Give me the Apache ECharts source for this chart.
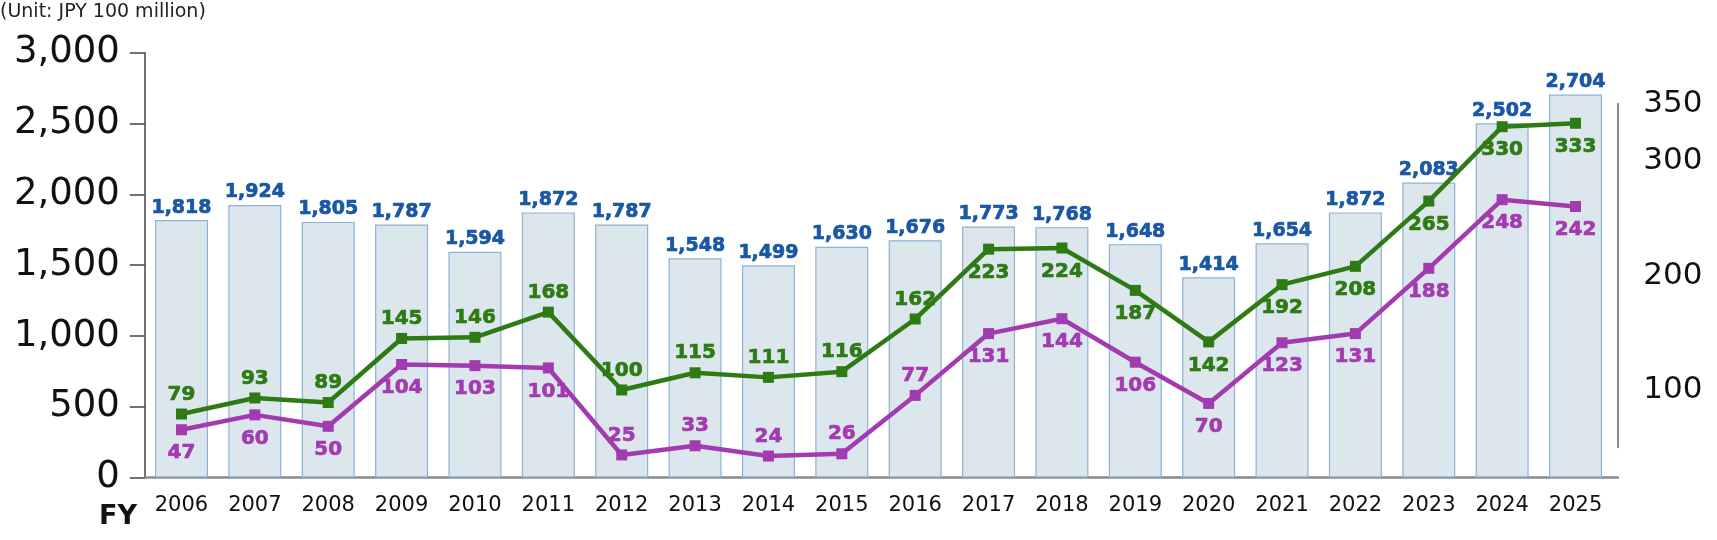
<!DOCTYPE html>
<html>
<head>
<meta charset="utf-8">
<script src="https://cdn.jsdelivr.net/npm/echarts@6/dist/echarts.min.js"></script>
<style>
  html, body { margin: 0; padding: 0; background: #fff; }
  #chart { width: 1717px; height: 540px; }
</style>
</head>
<body>
<div id="chart"></div>
<script>
const years = ['2006', '2007', '2008', '2009', '2010', '2011', '2012', '2013', '2014', '2015',
               '2016', '2017', '2018', '2019', '2020', '2021', '2022', '2023', '2024', '2025'];
const sales = [1818, 1924, 1805, 1787, 1594, 1872, 1787, 1548, 1499, 1630,
               1676, 1773, 1768, 1648, 1414, 1654, 1872, 2083, 2502, 2704];
const greenValues = [79, 93, 89, 145, 146, 168, 100, 115, 111, 116,
                     162, 223, 224, 187, 142, 192, 208, 265, 330, 333];
const purpleValues = [47, 60, 50, 104, 103, 101, 25, 33, 24, 26,
                      77, 131, 144, 106, 70, 123, 131, 188, 248, 242];
const greenLabelSide = ['top', 'top', 'top', 'top', 'top', 'top', 'top', 'top', 'top', 'top',
                        'top', 'bottom', 'bottom', 'bottom', 'bottom', 'bottom', 'bottom', 'bottom', 'bottom', 'bottom'];
const purpleLabelSide = ['bottom', 'bottom', 'bottom', 'bottom', 'bottom', 'bottom', 'top', 'top', 'top', 'top',
                         'top', 'bottom', 'bottom', 'bottom', 'bottom', 'bottom', 'bottom', 'bottom', 'bottom', 'bottom'];
const leftTicks = [0, 500, 1000, 1500, 2000, 2500, 3000];
const rightTicks = [100, 200, 300, 350];

const font = '"DejaVu Sans", "Noto Sans", sans-serif';
const GREEN = '#2e7a14';
const PURPLE = '#a33bb0';
const BLUE = '#1a57a4';

const withSides = (values, sides) => values.map((v, i) => ({
    value: v,
    label: { position: sides[i], distance: sides[i] === 'top' ? 4 : 8 }
}));

const boldLabel = (color, size) => ({
    show: true, color: color, fontSize: size, fontWeight: 'bold', fontFamily: font,
    textBorderColor: color, textBorderWidth: 0.7
});

const chart = echarts.init(document.getElementById('chart'));

chart.setOption({
    animation: false,
    grid: [
        { left: 144.8, right: 104.8, top: 52.7, bottom: 62.5 },
        { left: 144.8, right: 104.8, top: 103.8, bottom: 92.8 }
    ],
    xAxis: [
        {
            gridIndex: 0,
            type: 'category',
            data: years,
            axisLine: { lineStyle: { color: '#8a8a8a', width: 2.5 } },
            axisTick: { show: false },
            axisLabel: { color: '#111', fontSize: 21, fontFamily: font, margin: 18 }
        },
        {
            gridIndex: 1,
            type: 'category',
            data: years,
            show: false
        }
    ],
    yAxis: [
        {
            gridIndex: 0,
            type: 'value',
            min: 0,
            max: 3000,
            interval: 500,
            splitLine: { show: false },
            axisLine: { show: true, lineStyle: { color: '#444', width: 1.5 } },
            axisTick: { show: true, length: 15, lineStyle: { color: '#444', width: 1.5 } },
            axisLabel: {
                color: '#111', fontSize: 37, fontFamily: font, margin: 25,
                formatter: v => leftTicks.includes(v) ? v.toLocaleString('en-US') : ''
            }
        },
        {
            gridIndex: 1,
            type: 'value',
            position: 'right',
            offset: 6,
            min: 50,
            max: 350,
            interval: 50,
            splitLine: { show: false },
            axisLine: { show: true, lineStyle: { color: '#8a8a8a', width: 2 } },
            axisTick: { show: false },
            axisLabel: {
                color: '#111', fontSize: 31, fontFamily: font, margin: 25,
                formatter: v => rightTicks.includes(v) ? String(v) : ''
            }
        },
        {
            // same scale as the right axis, shifted as in the original artwork
            gridIndex: 1,
            type: 'value',
            min: 31.75,
            max: 331.75,
            show: false
        }
    ],
    graphic: [
        {
            type: 'text', left: 0, top: 3,
            style: { text: '(Unit: JPY 100 million)', fontSize: 19, fontFamily: font, fill: '#222' }
        },
        {
            type: 'text', left: 99, top: 503,
            style: { text: 'FY', fontSize: 27, fontWeight: 'bold', fontFamily: font, fill: '#111' }
        },
        {
            // the baseline runs on under the right-hand axis
            type: 'line', z: 5,
            shape: { x1: 1612, y1: 477.5, x2: 1619, y2: 477.5 },
            style: { stroke: '#8a8a8a', lineWidth: 2.5 }
        }
    ],
    series: [
        {
            type: 'bar',
            xAxisIndex: 0,
            yAxisIndex: 0,
            data: sales,
            barWidth: 53,
            itemStyle: { color: '#dce6ed', borderColor: '#8fb1d6', borderWidth: 1.2 },
            label: Object.assign(boldLabel(BLUE, 19), {
                position: 'top', distance: 3,
                formatter: p => p.value.toLocaleString('en-US')
            }),
            z: 1
        },
        {
            type: 'line',
            xAxisIndex: 1,
            yAxisIndex: 1,
            clip: false,
            data: withSides(greenValues, greenLabelSide),
            symbol: 'rect',
            symbolSize: 11,
            lineStyle: { color: GREEN, width: 4.5 },
            itemStyle: { color: GREEN },
            label: boldLabel(GREEN, 20),
            z: 3
        },
        {
            type: 'line',
            xAxisIndex: 1,
            yAxisIndex: 2,
            clip: false,
            data: withSides(purpleValues, purpleLabelSide),
            symbol: 'rect',
            symbolSize: 11,
            lineStyle: { color: PURPLE, width: 4.5 },
            itemStyle: { color: PURPLE },
            label: boldLabel(PURPLE, 20),
            z: 3
        }
    ]
});
</script>
</body>
</html>
